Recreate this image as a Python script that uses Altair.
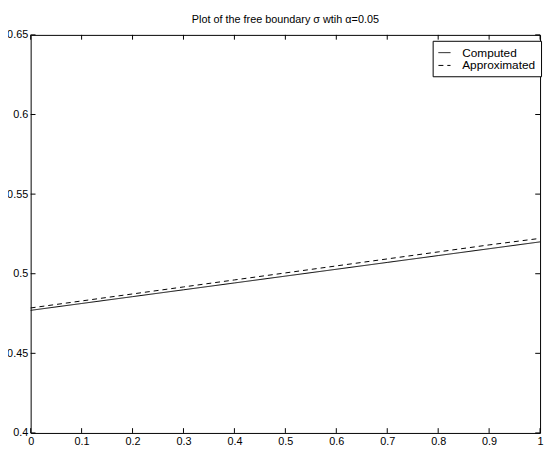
import altair as alt
import pandas as pd

x_vals = [0.0, 0.1, 0.2, 0.3, 0.4, 0.5, 0.6, 0.7, 0.8, 0.9, 1.0]
computed = [0.4770, 0.4813, 0.4856, 0.4899, 0.4942, 0.4985, 0.5028, 0.5071, 0.5114, 0.5157, 0.5200]
approximated = [0.4785, 0.4829, 0.4873, 0.4917, 0.4961, 0.5005, 0.5049, 0.5093, 0.5137, 0.5181, 0.5222]
series_names = ["Computed", "Approximated"]
x_ticks = [0, 0.1, 0.2, 0.3, 0.4, 0.5, 0.6, 0.7, 0.8, 0.9, 1]
y_ticks = [0.4, 0.45, 0.5, 0.55, 0.6, 0.65]

rows = []
for xv, c, a in zip(x_vals, computed, approximated):
    rows.append({"x": xv, "y": c, "series": series_names[0]})
    rows.append({"x": xv, "y": a, "series": series_names[1]})
df = pd.DataFrame(rows)

FONT = "Liberation Sans"
xs = alt.Scale(domain=[0, 1], nice=False, zero=False)
ys = alt.Scale(domain=[0.4, 0.65], nice=False, zero=False)

xlen = 0.0095
ylen = 0.003
tick_rows = []
for t in x_ticks:
    tick_rows.append({"x": t, "x2": t, "y": 0.4, "y2": 0.4 + ylen})
    tick_rows.append({"x": t, "x2": t, "y": 0.65, "y2": 0.65 - ylen})
for t in y_ticks:
    tick_rows.append({"x": 0, "x2": xlen, "y": t, "y2": t})
    tick_rows.append({"x": 1, "x2": 1 - xlen, "y": t, "y2": t})
ticks_df = pd.DataFrame(tick_rows)

lines = alt.Chart(df).mark_line(strokeWidth=1, color="black").encode(
    x=alt.X("x:Q", scale=xs, axis=alt.Axis(values=x_ticks, format="~g", title=None, domain=False,
                                            ticks=False, grid=False, labelPadding=3, labelFontSize=11,
                                            labelFont=FONT, labelColor="black", labelFlush=False)),
    y=alt.Y("y:Q", scale=ys, axis=alt.Axis(values=y_ticks, format="~g", title=None, domain=False,
                                            ticks=False, grid=False, labelPadding=3, labelFontSize=11,
                                            labelFont=FONT, labelColor="black", labelFlush=False)),
    strokeDash=alt.StrokeDash("series:N", scale=alt.Scale(domain=series_names, range=[[1, 0], [5, 4]]),
                              legend=alt.Legend(title=None, orient="none", legendX=408, legendY=6,
                                                symbolType="stroke", symbolSize=150, symbolStrokeWidth=1,
                                                symbolStrokeColor="black", labelFont=FONT, labelFontSize=12,
                                                labelColor="black", strokeColor="black", fillColor="white",
                                                padding=5, rowPadding=0, labelOffset=11)),
    detail="series:N",
)

ticks = alt.Chart(ticks_df).mark_rule(color="black", strokeWidth=1).encode(
    x=alt.X("x:Q", scale=xs), x2="x2:Q", y=alt.Y("y:Q", scale=ys), y2="y2:Q"
)

chart = alt.layer(ticks, lines).properties(
    width=517, height=404,
    title=alt.Title("Plot of the free boundary σ wtih α=0.05", font=FONT, fontSize=11,
                    fontWeight="normal", color="black", offset=4),
    padding={"left": 23, "top": 24, "right": 4, "bottom": 13},
    autosize=alt.AutoSizeParams(type="none"),
    background="white",
).configure_view(stroke="black", strokeWidth=1)

chart.save("out.html", embed_options={"renderer": "svg", "actions": False})
